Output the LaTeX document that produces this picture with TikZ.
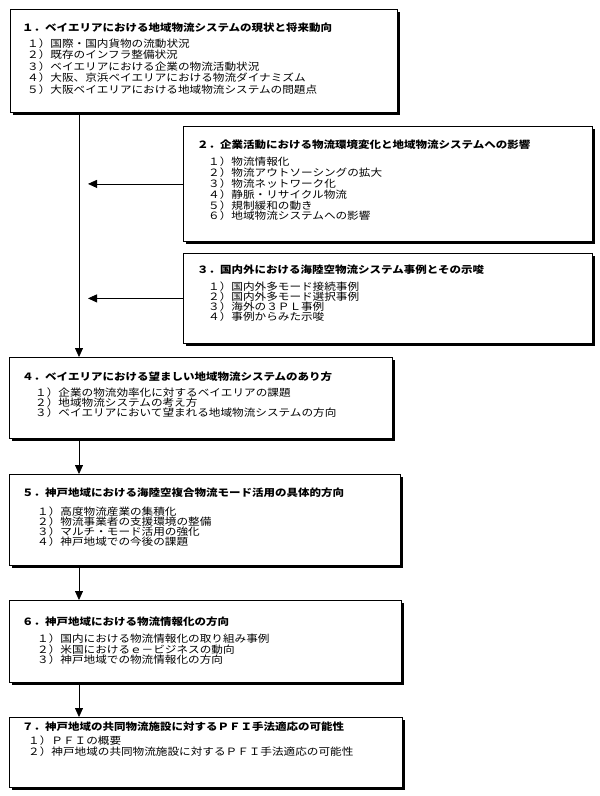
\documentclass[tikz,border=0pt]{standalone}
\usepackage{fontspec}
\setmainfont{Noto Sans CJK JP}[FakeStretch=1.15]
\usetikzlibrary{arrows.meta,positioning,shadows}

\begin{document}
\begin{tikzpicture}[x=1pt,y=-1pt,every node/.style={inner sep=0pt},
  box/.style={draw,line width=0.8pt,fill=white,anchor=north west,
    drop shadow={shadow xshift=2.5pt,shadow yshift=-2.5pt,fill=black,opacity=1}},
  ttl/.style={anchor=west,font=\fontsize{10}{11}\selectfont\bfseries,text height=8.8pt,text depth=1.2pt},
  itm/.style={anchor=west,font=\fontsize{10.1}{11}\selectfont,text height=8.8pt,text depth=1.2pt},
  arr/.style={line width=0.8pt,-{Triangle[length=9pt,width=8pt]}}]
\useasboundingbox (0,0) rectangle (600,796);
\coordinate (spine) at (79,0);
\coordinate (tip) at (88,0);

% 1. current state
\node[box,minimum width=387pt,minimum height=103pt] (b1) at (10,9) {};
\node[ttl] (t1) at (22,28) {１．ベイエリアにおける地域物流システムの現状と将来動向};
\foreach \s [count=\i] in {１）国際・国内貨物の流動状況,２）既存のインフラ整備状況,
  ３）ベイエリアにおける企業の物流活動状況,４）大阪、京浜ベイエリアにおける物流ダイナミズム,
  ５）大阪ベイエリアにおける地域物流システムの問題点}
  \node[itm] (l1-\i) at (27,{43.3+11.5*(\i-1)}) {\s};

% 2. corporate activity
\node[box,minimum width=409pt,minimum height=115pt] (b2) at (183,126) {};
\node[ttl] (t2) at (197,145) {２．企業活動における物流環境変化と地域物流システムへの影響};
\foreach \s [count=\i] in {１）物流情報化,２）物流アウトソーシングの拡大,３）物流ネットワーク化,
  ４）静脈・リサイクル物流,５）規制緩和の動き,６）地域物流システムへの影響}
  \node[itm] (l2-\i) at (208,{162+10.8*(\i-1)}) {\s};

% 3. case studies
\node[box,minimum width=409pt,minimum height=90pt] (b3) at (183,253) {};
\node[ttl] (t3) at (197,270) {３．国内外における海陸空物流システム事例とその示唆};
\foreach \s [count=\i] in {１）国内外多モード接続事例,２）国内外多モード選択事例,
  ３）海外の３ＰＬ事例,４）事例からみた示唆}
  \node[itm] (l3-\i) at (208,{287+10*(\i-1)}) {\s};

% 4. desirable system
\node[box,minimum width=383pt,minimum height=81pt] (b4) at (9,357) {};
\node[ttl] (t4) at (22,377) {４．ベイエリアにおける望ましい地域物流システムのあり方};
\foreach \s [count=\i] in {１）企業の物流効率化に対するベイエリアの課題,２）地域物流システムの考え方,
  ３）ベイエリアにおいて望まれる地域物流システムの方向}
  \node[itm] (l4-\i) at (35,{393+10*(\i-1)}) {\s};

% 5. Kobe multimodal
\node[box,minimum width=391pt,minimum height=91pt] (b5) at (9,474) {};
\node[ttl] (t5) at (22,493) {５．神戸地域における海陸空複合物流モード活用の具体的方向};
\foreach \s [count=\i] in {１）高度物流産業の集積化,２）物流事業者の支援環境の整備,
  ３）マルチ・モード活用の強化,４）神戸地域での今後の課題}
  \node[itm] (l5-\i) at (37,{512+9.8*(\i-1)}) {\s};

% 6. Kobe information
\node[box,minimum width=392pt,minimum height=82pt] (b6) at (9,600) {};
\node[ttl] (t6) at (22,622) {６．神戸地域における物流情報化の方向};
\foreach \s [count=\i] in {１）国内における物流情報化の取り組み事例,２）米国におけるｅ－ビジネスの動向,
  ３）神戸地域での物流情報化の方向}
  \node[itm] (l6-\i) at (37,{639+10.5*(\i-1)}) {\s};

% 7. PFI
\node[box,minimum width=393pt,minimum height=70pt] (b7) at (9,717) {};
\node[ttl] (t7) at (22,727) {７．神戸地域の共同物流施設に対するＰＦＩ手法適応の可能性};
\foreach \s [count=\i] in {１）ＰＦＩの概要,２）神戸地域の共同物流施設に対するＰＦＩ手法適応の可能性}
  \node[itm] (l7-\i) at (28,{740.5+11.5*(\i-1)}) {\s};

% connectors
\draw[arr] (b1.south -| spine) -- (b4.north -| spine);
\draw[arr] (b2.west) -- (b2.west -| tip);
\draw[arr] (b3.west) -- (b3.west -| tip);
\draw[arr] (b4.south -| spine) -- (b5.north -| spine);
\draw[arr] (b5.south -| spine) -- (b6.north -| spine);
\draw[arr] (b6.south -| spine) -- (b7.north -| spine);
\end{tikzpicture}
\end{document}
